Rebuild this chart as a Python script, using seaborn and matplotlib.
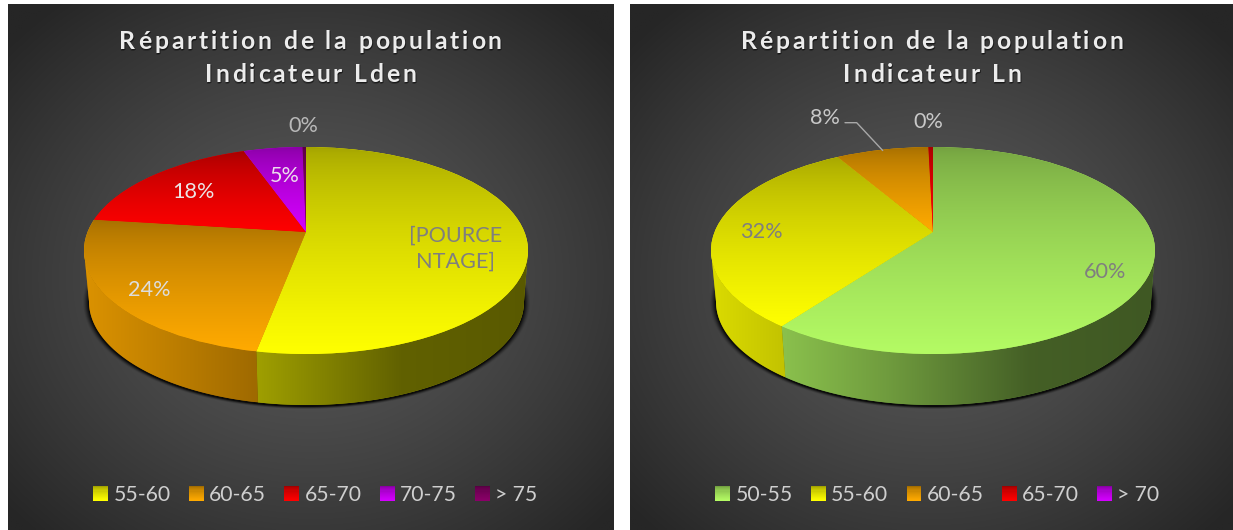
import numpy as np
import matplotlib
matplotlib.use("Agg")
import matplotlib.pyplot as plt
import seaborn as sns
from matplotlib.legend_handler import HandlerBase
from matplotlib.patches import Patch, PathPatch, Rectangle
from matplotlib.path import Path
from matplotlib.text import Text
from matplotlib.transforms import Bbox, Transform

# ---- data -------------------------------------------------------------
title_lden = ["Répartition de la population", "Indicateur Lden"]
categories_lden = ["55-60", "60-65", "65-70", "70-75", "> 75"]
values_lden = [53.0, 24.0, 17.6, 5.1, 0.3]
labels_lden = ["[POURCE\nNTAGE]", "24%", "18%", "5%", "0%"]

title_ln = ["Répartition de la population", "Indicateur Ln"]
categories_ln = ["50-55", "55-60", "60-65", "65-70", "> 70"]
values_ln = [60.1, 31.5, 8.0, 0.4, 0.0]
labels_ln = ["60%", "32%", "8%", "0%"]

# ---- style ------------------------------------------------------------
sns.set_theme(style="dark", font="Lato")
plt.rcParams["font.family"] = ["Lato", "DejaVu Sans"]

colors_lden = sns.color_palette(["#ffff00", "#ffaa00", "#ff0000", "#d400ff", "#8a0068"])
colors_ln = sns.color_palette(["#b4fb64", "#ffff00", "#ffaa00", "#ff0000", "#d400ff"])

W, H = 1233, 530
TOP_SHADE = 0.64
GRAD_GAMMA = 0.65


class PieProjection(Transform):
    """Tilts a unit-disc pie into the perspective ellipse of the 3-D look."""
    input_dims = output_dims = 2

    def __init__(self, cx, cy, a, b, e):
        super().__init__()
        self.cx, self.cy, self.a, self.b, self.e = cx, cy, a, b, e

    def transform_non_affine(self, values):
        values = np.asarray(values, float)
        u, v = values[:, 0], values[:, 1]
        k = 1 + self.e * v
        xn = u * np.sqrt(1 - self.e ** 2) / k
        yn = (v + self.e) / k
        return np.column_stack([self.cx + self.a * xn, self.cy - self.b * yn])


class SpacedText(Text):
    """Single-line centred text drawn with letter spacing and a soft drop shadow."""

    def __init__(self, *args, tracking=0.0, **kwargs):
        super().__init__(*args, ha="center", va="center", **kwargs)
        self.tracking = tracking

    def get_window_extent(self, renderer=None, dpi=None):
        box = super().get_window_extent(renderer, dpi)
        extra = self.tracking * (len(self.get_text()) - 1) / 2
        return Bbox.from_extents(box.x0 - extra, box.y0, box.x1 + extra, box.y1)

    def draw(self, renderer):
        s = self.get_text()
        fp = self.get_fontproperties()
        x, y = self.get_transform().transform(self.get_unitless_position())
        measure = lambda t: renderer.get_text_width_height_descent(t, fp, False)
        total = measure(s)[0] + self.tracking * (len(s) - 1)
        _, h, d = measure("Rp")
        x0 = x - total / 2
        base = renderer.height - y + (h / 2 - d)
        passes = [((0, 2), (0, 0, 0), 0.25), ((1, 1), (0, 0, 0), 0.45), ((0, 0), self.get_color(), 1.0)]
        for (dx, dy), col, alpha in passes:
            gc = renderer.new_gc()
            gc.set_foreground(col)
            gc.set_alpha(alpha)
            for i, ch in enumerate(s):
                px = x0 + measure(s[:i + 1])[0] - measure(ch)[0] + i * self.tracking
                renderer.draw_text(gc, px + dx, base + dy, ch, fp, 0, False)
            gc.restore()


class GradientSwatch(HandlerBase):
    def create_artists(self, legend, orig_handle, xdescent, ydescent, width, height, fontsize, trans):
        base = np.array(orig_handle.get_facecolor()[:3])
        n = 14
        out = []
        for i in range(n):
            t = (n - 1 - i) / (n - 1)
            shade = TOP_SHADE + (1 - TOP_SHADE) * t ** GRAD_GAMMA
            r = Rectangle((-xdescent, -ydescent + height * i / n), width, height / n * 1.1,
                          facecolor=base * shade, edgecolor="none", transform=trans)
            out.append(r)
        return out


def background(ax, box):
    x0, x1, y0, y1 = box
    xx, yy = np.meshgrid(np.linspace(x0, x1, 304), np.linspace(y0, y1, 264))
    cx, cy = (x0 + x1) / 2, (y0 + y1) / 2 + 10
    r = np.hypot((xx - cx) / ((x1 - x0) / 2), (yy - cy) / ((y1 - y0) / 2)) / np.sqrt(2)
    g = (90 - 52 * np.clip(r / 0.95, 0, 1) ** 1.3) / 255
    ax.imshow(np.dstack([g, g, g]), extent=(x0, x1, y1, y0), aspect="auto", zorder=0,
              interpolation="bilinear")


def draw_pie(ax, values, colors, cx):
    cy, a, b, apex = 250.5, 222.0, 103.5, 232.0
    cy2, a2, b2 = 301.5, 217.5, 103.5
    e = (cy - apex) / b
    proj = PieProjection(cx, cy, a, b, e)
    proj2 = PieProjection(cx + 0.5, cy2, a2, b2, e)

    # soft shadow around the base
    xs = np.arange(cx - 250, cx + 250, 1.0)
    ys = np.arange(190, 425, 1.0)
    xx, yy = np.meshgrid(xs, ys)
    d = np.hypot((xx - cx - 0.5) / (a2 + 1), (yy - cy2 - 1) / (b2 + 1))
    alpha = np.clip(1 - (d - 1) * a2 / 6, 0, 1) ** 1.5 * 0.85
    shadow = np.zeros(xx.shape + (4,))
    shadow[..., 3] = alpha
    ax.imshow(shadow, extent=(xs[0], xs[-1], ys[-1], ys[0]), aspect="auto", zorder=1)

    wedges, _ = ax.pie(values, colors=colors, startangle=90, counterclock=False, radius=1,
                       wedgeprops={"linewidth": 0})
    data_to_px = proj + ax.transData
    front0 = 180 + np.degrees(np.arcsin(e))
    front1 = 360 - np.degrees(np.arcsin(e))

    for w, val, col in zip(wedges, values, colors):
        col = np.array(col)
        w.set_transform(data_to_px)
        w.set_zorder(4)
        t1, t2 = w.theta1, w.theta2
        th = np.radians(np.linspace(t1, t2, 200))
        rim = np.column_stack([np.cos(th), np.sin(th)])
        pts = proj.transform_non_affine(np.vstack([rim, [[0, 0]]]))
        if val > 0:
            ymin, ymax = pts[:, 1].min(), pts[:, 1].max()
            xmin, xmax = pts[:, 0].min(), pts[:, 0].max()
            shade = (TOP_SHADE + (1 - TOP_SHADE) * np.linspace(0, 1, 128) ** GRAD_GAMMA)[:, None, None]
            img = ax.imshow(np.clip(shade * col[None, None, :], 0, 1),
                            extent=(xmin - 1, xmax + 1, ymax, ymin), aspect="auto", zorder=5,
                            interpolation="bilinear")
            img.set_clip_path(w)

        # side wall: the part of the rim that faces the viewer
        for lo, hi in [(t1, t2), (t1 + 360, t2 + 360), (t1 - 360, t2 - 360)]:
            lo2, hi2 = max(lo, front0), min(hi, front1)
            if hi2 <= lo2:
                continue
            th = np.radians(np.linspace(lo2, hi2, 200))
            rim = np.column_stack([np.cos(th), np.sin(th)])
            upper = proj.transform_non_affine(rim)
            lower = proj2.transform_non_affine(rim)
            poly = np.vstack([upper, lower[::-1], upper[:1]])
            path = Path(poly, closed=True)
            patch = PathPatch(path, facecolor=col * 0.6, edgecolor="none", zorder=2)
            ax.add_patch(patch)
            xl, xr = poly[:, 0].min(), poly[:, 0].max()
            col_x = np.linspace(xl, xr, 256)
            fac = np.interp((col_x - cx) / a, [-1, -0.66, -0.21, 0.43, 1],
                            [0.86, 0.76, 0.62, 0.38, 0.35])
            img = ax.imshow(np.clip(fac[None, :, None] * col[None, None, :], 0, 1),
                            extent=(xl, xr, poly[:, 1].max(), poly[:, 1].min()),
                            aspect="auto", zorder=3, interpolation="bilinear")
            img.set_clip_path(patch)


def panel(fig, box, title, values, colors, categories, cx, title_x, legend_x):
    x0, x1, y0, y1 = box
    ax = fig.add_axes([x0 / W, 1 - y1 / H, (x1 - x0) / W, (y1 - y0) / H])
    background(ax, box)
    draw_pie(ax, values, colors, cx)
    ax.set_aspect("auto")
    ax.set_xlim(x0, x1)
    ax.set_ylim(y1, y0)
    ax.set_xticks([])
    ax.set_yticks([])
    ax.set_frame_on(False)
    for ln, yy in zip(title, (42, 75)):
        t = SpacedText(title_x, yy, ln, tracking=2.82, color="#ececec", fontsize=17.8,
                       fontweight="bold", zorder=7)
        ax.add_artist(t)
    handles = [Patch(facecolor=c, label=l) for c, l in zip(colors, categories)]
    ax.legend(handles=handles, ncol=5, loc="center", bbox_to_anchor=(legend_x, 495),
              bbox_transform=ax.transData, frameon=False, fontsize=15.2,
              labelcolor="#cfcfcf", handlelength=0.7, handleheight=0.7, handletextpad=0.25,
              columnspacing=0.87, borderpad=0, borderaxespad=0,
              handler_map={Patch: GradientSwatch()})
    return ax


fig = plt.figure(figsize=(W / 100, H / 100), dpi=100, facecolor="white")

ax1 = panel(fig, (8, 614, 4, 530), title_lden, values_lden, colors_lden, categories_lden,
            306, 310.5, 315.5)
ax2 = panel(fig, (630, 1233, 4, 530), title_ln, values_ln, colors_ln, categories_ln,
            933, 932, 937.5)

GREY = "#7f7f7f"
label_spots_lden = [(456, 248.5, GREY), (149, 290, "#dddddd"), (193.5, 192.5, "#ece4e4"),
                    (285, 176.5, "#ecdcec"), (303, 126.5, "#b8b8b8")]
for s, (x, y, c) in zip(labels_lden, label_spots_lden):
    ax1.text(x, y, s, color=c, fontsize=15.6, ha="center", va="center", zorder=8, linespacing=1.4)

label_spots_ln = [(1105, 272.5, GREY), (761, 231.5, GREY), (825, 117.5, "#c8c8c8"), (928.5, 122, "#c8c8c8")]
for s, (x, y, c) in zip(labels_ln, label_spots_ln):
    ax2.text(x, y, s, color=c, fontsize=15.6, ha="center", va="center", zorder=8)

# leader line of the 8% label
ax2.plot([845, 856.7, 882.7], [122.7, 122.7, 150.5], color="#a8a8a8", lw=1.0, zorder=8,
         scalex=False, scaley=False)

fig.savefig("out.png", dpi=100, facecolor="white")
